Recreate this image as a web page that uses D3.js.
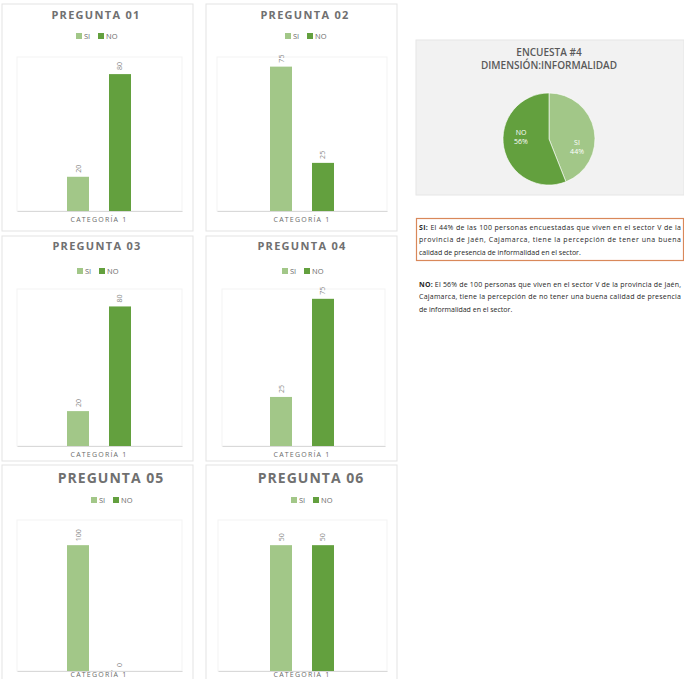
<!DOCTYPE html>
<html>
<head>
<meta charset="utf-8">
<script src="https://cdn.jsdelivr.net/npm/d3@7"></script>
<style>
  body { margin: 0; background: #ffffff; }
  text { font-family: "Open Sans", "Noto Sans", sans-serif; }
</style>
</head>
<body>
<div id="chart"></div>
<script>
////////////////////////////////////////////////////////////////////////////////////////
// Data
var preguntas = ["PREGUNTA 01", "PREGUNTA 02", "PREGUNTA 03", "PREGUNTA 04", "PREGUNTA 05", "PREGUNTA 06"];
var series = ["SI", "NO"];
var siValues = [20, 75, 20, 25, 100, 50];
var noValues = [80, 25, 80, 75, 0, 50];
var axisMax = [90, 80, 90, 80, 120, 60];
var categoria = "CATEGORÍA 1";

var pieTitle = ["ENCUESTA #4", "DIMENSIÓN:INFORMALIDAD"];
var pieLabels = ["SI", "NO"];
var pieValues = [44, 56];

var textSi = ["El 44% de las 100 personas encuestadas que viven en el sector V de la",
              "provincia de Jaén, Cajamarca, tiene la percepción de tener una buena",
              "calidad de presencia de informalidad en el sector."];
var textNo = ["El 56% de 100 personas que viven en el sector V de la provincia de Jaén,",
              "Cajamarca, tiene la percepción de no tener una buena calidad de presencia",
              "de informalidad en el sector."];

////////////////////////////////////////////////////////////////////////////////////////
// Colours and panel layout
var colors = { SI: "#a2c788", NO: "#63a03e" };
var grey = "#6b6b6b";

var panels = [
    { box: [2, 4, 191, 227],   title: 19,  titleX: 96,  titleSize: 11, legend: 39,  plot: [17, 182, 57, 211],  cx: 99,  cat: 222 },
    { box: [206, 4, 191, 227], title: 19,  titleX: 305, titleSize: 11, legend: 39,  plot: [217, 387, 57, 211], cx: 302, cat: 222 },
    { box: [2, 236, 191, 225], title: 250, titleX: 97,  titleSize: 11, legend: 274, plot: [17, 182, 289, 446], cx: 99,  cat: 457 },
    { box: [206, 236, 191, 225], title: 250, titleX: 302, titleSize: 11, legend: 274, plot: [222, 385, 289, 446], cx: 302, cat: 457 },
    { box: [2, 465, 191, 220], title: 483, titleX: 111, titleSize: 14, legend: 503, plot: [17, 182, 520, 671], cx: 99,  cat: 677 },
    { box: [206, 465, 191, 220], title: 483, titleX: 311, titleSize: 14, legend: 503, plot: [218, 387, 520, 671], cx: 302, cat: 677 }
];

var svg = d3.select("#chart").append("svg").attr("width", 684).attr("height", 679);

////////////////////////////////////////////////////////////////////////////////////////
// Bar panels
preguntas.forEach(function(name, i) {
    var p = panels[i];
    var g = svg.append("g");
    var values = { SI: siValues[i], NO: noValues[i] };

    // panel frame
    g.append("rect")
        .attr("x", p.box[0]).attr("y", p.box[1])
        .attr("width", p.box[2]).attr("height", p.box[3])
        .attr("fill", "#fff").attr("stroke", "#e3e3e3");

    // title
    g.append("text")
        .attr("x", p.titleX).attr("y", p.title)
        .attr("text-anchor", "middle")
        .style("font-size", p.titleSize + "px")
        .style("font-weight", "bold")
        .style("letter-spacing", p.titleSize > 12 ? "1px" : "1.3px")
        .attr("fill", "#707070")
        .text(name);

    // legend
    var legend = g.append("g").attr("transform", "translate(" + (p.titleX - 20) + "," + p.legend + ")");
    series.forEach(function(s, j) {
        var lx = j * 22;
        legend.append("rect").attr("x", lx).attr("y", -6).attr("width", 6).attr("height", 6).attr("fill", colors[s]);
        legend.append("text").attr("x", lx + 8).attr("y", 0)
            .style("font-size", "7.5px").attr("fill", grey).text(s);
    });

    // scales
    var x = d3.scaleBand().domain(series).range([p.cx - 32, p.cx + 32]).paddingInner(0.476);
    var y = d3.scaleLinear().domain([0, axisMax[i]]).range([p.plot[3], p.plot[2]]);

    // faint plot area frame
    g.append("rect")
        .attr("x", p.plot[0]).attr("y", p.plot[2])
        .attr("width", p.plot[1] - p.plot[0]).attr("height", p.plot[3] - p.plot[2])
        .attr("fill", "none").attr("stroke", "#f3f3f3");

    // bars
    g.selectAll(".bar").data(series).enter().append("rect")
        .attr("x", function(d) { return x(d); })
        .attr("y", function(d) { return y(values[d]); })
        .attr("width", x.bandwidth())
        .attr("height", function(d) { return y(0) - y(values[d]); })
        .attr("fill", function(d) { return colors[d]; });

    // baseline axis
    var xAxis = d3.axisBottom(d3.scaleLinear().range([p.plot[0], p.plot[1]])).ticks(0).tickSize(0);
    g.append("g").attr("transform", "translate(0," + p.plot[3] + ")").call(xAxis)
        .select(".domain").attr("stroke", "#d9d9d9");

    // rotated value labels
    g.selectAll(".lbl").data(series).enter().append("text")
        .attr("transform", function(d) {
            return "translate(" + (x(d) + x.bandwidth() / 2 + 2.5) + "," + (y(values[d]) - 4) + ") rotate(-90)";
        })
        .style("font-size", "7px")
        .attr("fill", "#8a8a8a")
        .text(function(d) { return values[d]; });

    // category label
    g.append("text")
        .attr("x", p.cx).attr("y", p.cat)
        .attr("text-anchor", "middle")
        .style("font-size", "7px")
        .style("letter-spacing", "1.2px")
        .attr("fill", grey)
        .text(categoria);
});

////////////////////////////////////////////////////////////////////////////////////////
// Pie panel
var pieG = svg.append("g");
pieG.append("rect").attr("x", 416).attr("y", 40).attr("width", 268).attr("height", 155)
    .attr("fill", "#f2f2f2").attr("stroke", "#e6e6e6");

pieTitle.forEach(function(t, i) {
    pieG.append("text")
        .attr("x", 549).attr("y", 56 + i * 13)
        .attr("text-anchor", "middle")
        .style("font-size", "10px")
        .style("font-weight", "600")
        .attr("fill", "#595959")
        .text(t);
});

var pieData = d3.pie().sort(null)(pieValues);
var radius = 46;
var arc = d3.arc().innerRadius(0).outerRadius(radius);
var labelArc = d3.arc().innerRadius(radius * 0.62).outerRadius(radius * 0.62);
var pieCenter = pieG.append("g").attr("transform", "translate(549,139)");

pieCenter.selectAll("path").data(pieData).enter().append("path")
    .attr("d", arc)
    .attr("fill", function(d, i) { return colors[pieLabels[i]]; })
    .attr("stroke", "#ffffff").attr("stroke-width", 0.6);

// labels sit a little lower on the right slice, a little higher on the left one
pieCenter.selectAll(".plabel").data(pieData).enter().append("text")
    .attr("transform", function(d, i) {
        var c = labelArc.centroid(d);
        return "translate(" + c[0] + "," + (c[1] + (i === 0 ? 13 : -8)) + ")";
    })
    .attr("text-anchor", "middle")
    .style("font-size", "7px")
    .attr("fill", "#ffffff")
    .each(function(d, i) {
        d3.select(this).append("tspan").attr("x", 0).attr("dy", "-0.2em").text(pieLabels[i]);
        d3.select(this).append("tspan").attr("x", 0).attr("dy", "1.3em").text(pieValues[i] + "%");
    });

////////////////////////////////////////////////////////////////////////////////////////
// Text blocks
svg.append("rect").attr("x", 416.5).attr("y", 218.5).attr("width", 267).attr("height", 42)
    .attr("fill", "#fff").attr("stroke", "#d9885a").attr("stroke-width", 1.2);

function textBlock(prefix, lines, top) {
    lines.forEach(function(line, i) {
        var t = svg.append("text")
            .attr("x", 419).attr("y", top + i * 12.3)
            .style("font-size", "7px")
            .attr("fill", "#262626");
        if (i < lines.length - 1) t.attr("textLength", 262).attr("lengthAdjust", "spacing");
        if (i === 0) {
            t.append("tspan").style("font-weight", "bold").text(prefix + " ");
        }
        t.append("tspan").text(line);
    });
}
textBlock("SI:", textSi, 230);
textBlock("NO:", textNo, 287);
</script>
</body>
</html>
